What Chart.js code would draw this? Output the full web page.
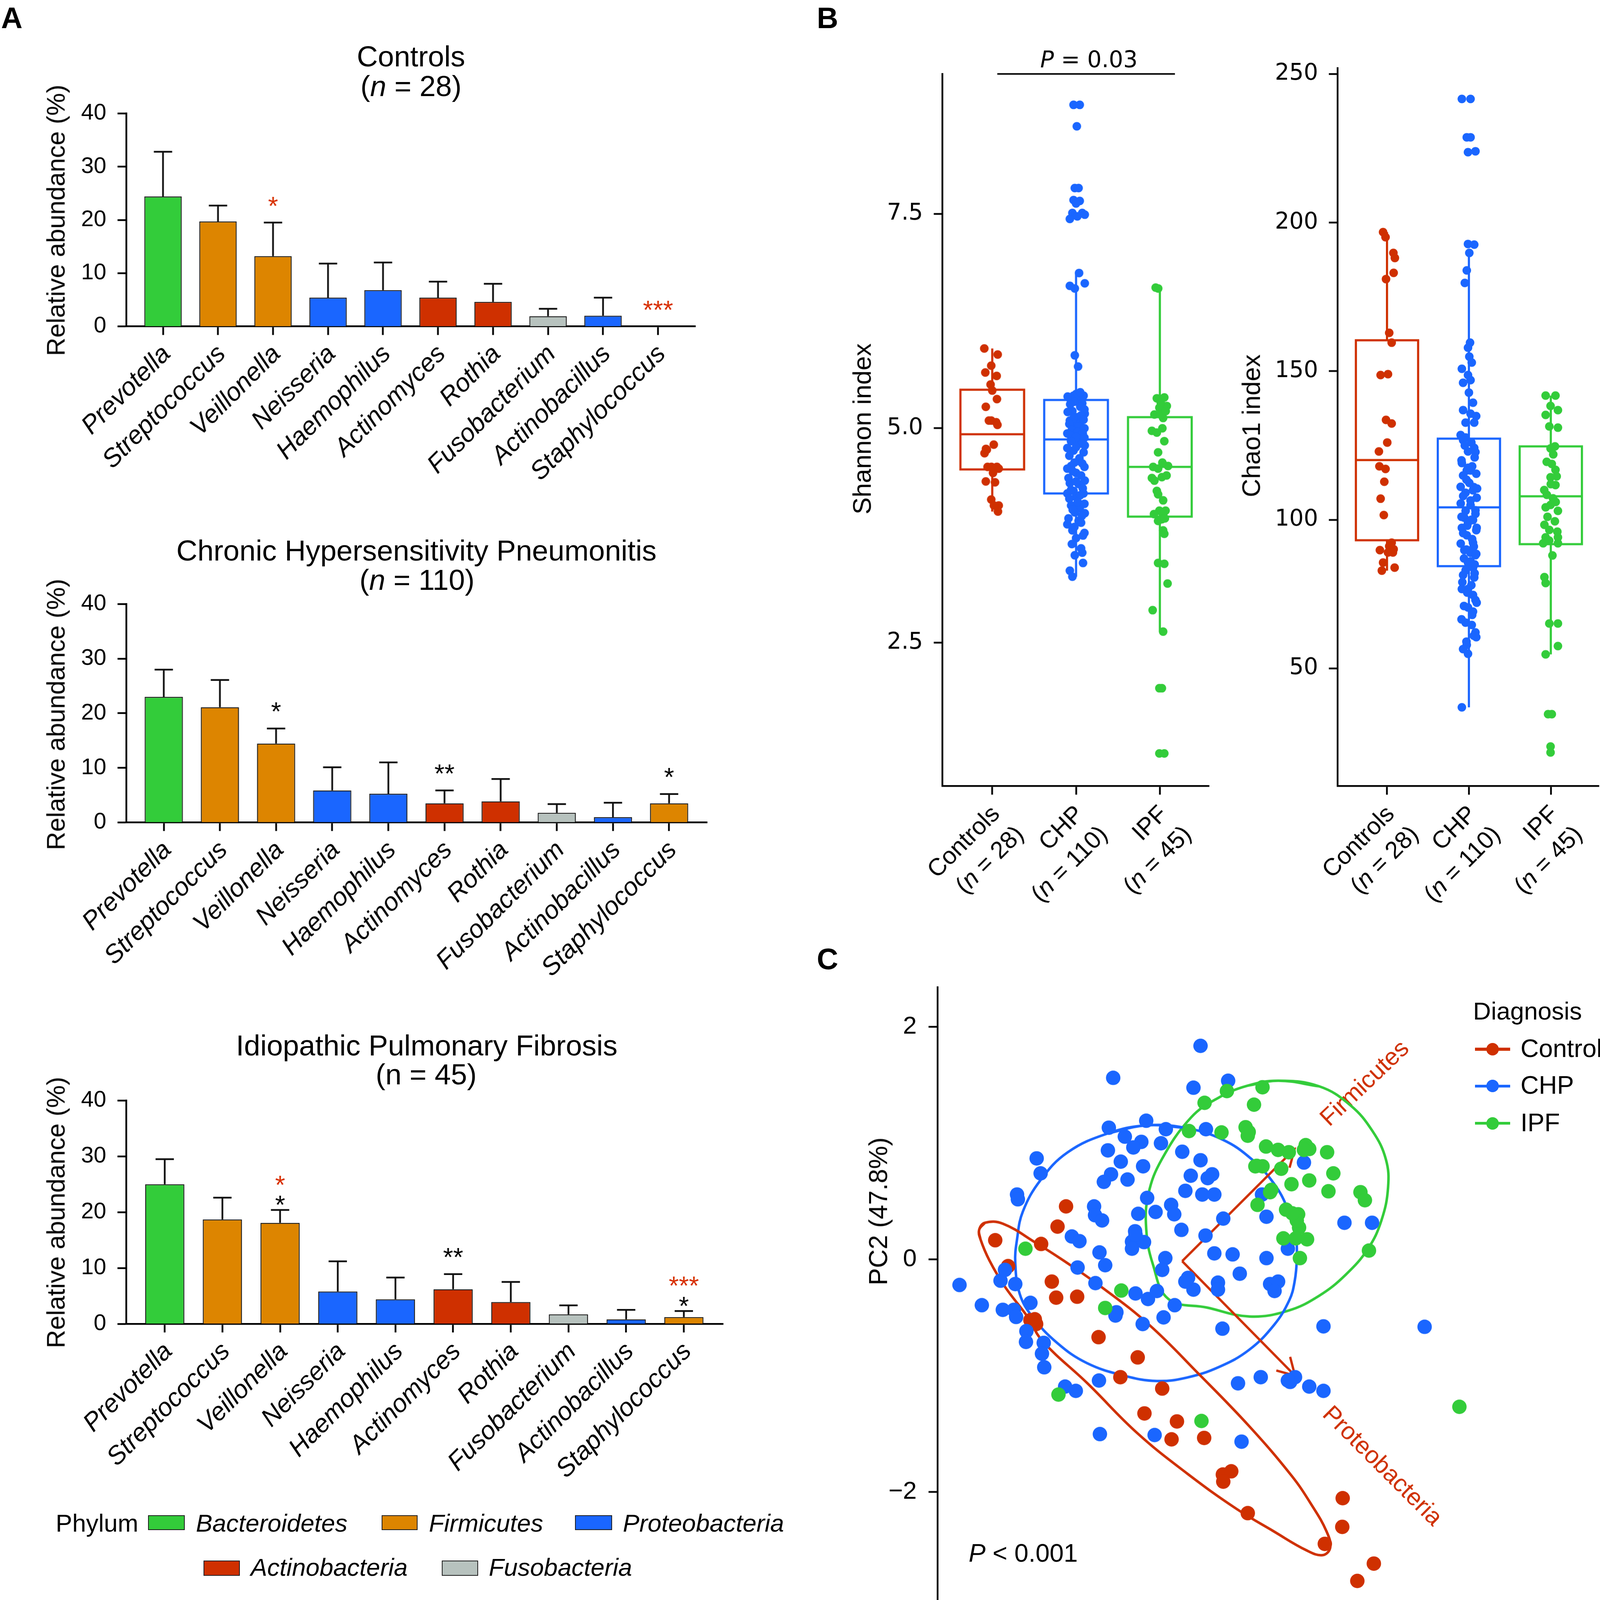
<!DOCTYPE html>
<html>
<head>
<meta charset="utf-8">
<title>Oral microbiota: relative abundance, alpha diversity and PCA</title>
<script src="https://cdn.jsdelivr.net/npm/chart.js@4.4.1/dist/chart.umd.min.js"></script>
<style>
  html, body { margin: 0; padding: 0; background: #fff; }
  #page { position: relative; width: 4138px; height: 4338px; overflow: hidden; background: #fff;
          font-family: "Liberation Sans", Arial, Helvetica, sans-serif; color: #000; }
  .box { position: absolute; }
  .box canvas { display: block; }
  .txt { position: absolute; white-space: nowrap; }
  .sw { position: absolute; box-sizing: border-box; }
</style>
</head>
<body>
<div id="page"></div>
<script>
// ---------------- data: panel A (relative abundance, %) ----------------
const GENERA = ['Prevotella', 'Streptococcus', 'Veillonella', 'Neisseria', 'Haemophilus',
                'Actinomyces', 'Rothia', 'Fusobacterium', 'Actinobacillus', 'Staphylococcus'];
const GENUS_PHYLUM = ['Bacteroidetes', 'Firmicutes', 'Firmicutes', 'Proteobacteria', 'Proteobacteria',
                      'Actinobacteria', 'Actinobacteria', 'Fusobacteria', 'Proteobacteria', 'Firmicutes'];
const PHYLA = ['Bacteroidetes', 'Firmicutes', 'Proteobacteria', 'Actinobacteria', 'Fusobacteria'];
const ABUND_TICKS = [0, 10, 20, 30, 40];

const CTRL_MEAN  = [24.4, 19.7, 13.2, 5.4, 6.8, 5.4, 4.6, 1.9, 2.0, 0];
const CTRL_UPPER = [32.8, 22.7, 19.5, 11.8, 12.0, 8.4, 8.0, 3.3, 5.4, 0];
const CTRL_SIG_BLACK = ['', '', '', '', '', '', '', '', '', ''];
const CTRL_SIG_RED   = ['', '', '*', '', '', '', '', '', '', '***'];

const CHP_MEAN  = [23.0, 21.1, 14.45, 5.85, 5.25, 3.5, 3.85, 1.75, 0.95, 3.5];
const CHP_UPPER = [28.0, 26.1, 17.2, 10.1, 11.0, 5.85, 7.95, 3.35, 3.6, 5.2];
const CHP_SIG_BLACK = ['', '', '*', '', '', '**', '', '', '', '*'];
const CHP_SIG_RED   = ['', '', '', '', '', '', '', '', '', ''];

const IPF_MEAN  = [25.0, 18.7, 18.1, 5.8, 4.4, 6.2, 3.9, 1.7, 0.8, 1.2];
const IPF_UPPER = [29.5, 22.6, 20.4, 11.2, 8.3, 8.9, 7.5, 3.3, 2.5, 2.3];
const IPF_SIG_BLACK = ['', '', '*', '', '', '**', '', '', '', '*'];
const IPF_SIG_RED   = ['', '', '*', '', '', '', '', '', '', '***'];

// ---------------- data: panel B (alpha diversity) ----------------
const GROUPS = ['Controls', 'CHP', 'IPF'];
const GROUP_N = [28, 110, 45];

const SHANNON_TICKS = [2.5, 5.0, 7.5];
const SHANNON_Q1  = [4.52, 4.24, 3.97];
const SHANNON_MED = [4.93, 4.87, 4.55];
const SHANNON_Q3  = [5.45, 5.33, 5.13];
const SHANNON_LO  = [4.03, 3.27, 2.63];
const SHANNON_HI  = [5.93, 6.81, 6.64];
// [value, horizontal jitter in category units]
const SHANNON_CTRL = [[5.93,-0.095],[5.86,0.065],[5.73,-0.012],[5.65,-0.083],[5.61,0.053],[5.51,-0.02],[5.44,0],
  [5.34,0.056],[5.25,-0.077],[5.09,-0.012],[5.07,0.047],[5.04,0.062],[4.81,0.018],[4.75,-0.065],[4.71,-0.092],
  [4.55,-0.056],[4.55,0.056],[4.53,0.077],[4.48,0.009],[4.38,-0.077],[4.37,0.033],[4.17,-0.012],[4.10,0.077],
  [4.03,0.068],[4.76,-0.075],[4.55,-0.01],[5.09,-0.04],[4.10,0.02]];
const SHANNON_CHP = [[8.77,-0.03],[8.77,0.044],[8.52,0.009],[7.80,-0.015],[7.80,0.03],[7.66,-0.03],[7.65,0.044],
  [7.62,0],[7.51,-0.044],[7.51,0.074],[7.47,0.015],[7.44,-0.074],[7.49,0.104],[6.81,0.036],[6.66,-0.074],
  [6.69,0.104],[6.63,-0.015],[5.85,-0.015],[5.72,0.024],
  [5.36,-0.089],[5.38,-0.03],[5.36,0.03],[5.29,0.074],[5.20,-0.044],[5.17,0.104],[5.13,0.015],[5.09,-0.074],
  [5.06,0.044],[5.03,-0.015],[4.94,-0.104],[4.88,-0.044],[4.91,0.059],[4.83,0.015],[4.80,0.104],[4.77,-0.104],
  [4.74,-0.03],[4.62,0.03],[4.56,-0.059],[4.59,0.074],[4.53,-0.104],[4.48,0],[4.39,0.104],[4.36,-0.074],
  [4.35,0.03],[4.27,-0.03],[4.24,-0.104],[4.24,0.089],[4.20,0],[4.10,-0.059],[4.07,0.044],[4.02,-0.015],
  [4.01,0.104],[3.88,-0.104],[3.81,-0.044],[3.92,0.03],[3.75,0.083],[3.72,0],[3.55,0.074],[3.52,-0.015],
  [3.43,0.083],[3.34,-0.074],[3.27,-0.044],
  [5.40,0],[5.38,0.09],[5.35,-0.06],[5.42,0.05],[5.37,-0.1],
  [5.31,-0.02],[5.28,-0.07],[5.25,0.05],[5.22,0.1],[5.19,-0.1],[5.15,0.06],[5.12,-0.03],[5.10,0.09],[5.05,-0.08],
  [5.02,0.03],[5.00,0.1],[4.98,-0.05],[4.96,0.02],[4.94,0.08],[4.92,-0.07],[4.90,0],[4.89,0.1],
  [4.85,-0.06],[4.82,0.07],[4.78,0],[4.72,0.09],[4.68,-0.08],[4.65,0.04],[4.60,-0.02],[4.55,0.1],[4.50,-0.04],
  [4.45,0.06],[4.42,-0.09],[4.38,0],[4.30,0.08],[4.28,-0.06],
  [4.22,0.05],[4.18,-0.08],[4.14,0.02],[4.12,0.1],[4.05,-0.04],[3.98,0.07],[3.95,-0.09],[3.90,0.06],[3.85,-0.02],
  [3.78,0.1],[3.65,-0.05],[3.60,0.06]];
const SHANNON_IPF = [[6.64,-0.05],[6.63,-0.02],[5.35,-0.036],[5.36,0.053],[5.26,0.083],[5.24,-0.006],[5.16,-0.065],
  [5.12,0.039],[5.16,0.009],[4.97,-0.095],[4.95,-0.036],[4.85,0.053],[4.72,-0.021],[4.55,-0.08],[4.56,0.098],
  [4.53,-0.021],[4.42,-0.095],[4.43,0.024],[4.39,-0.065],[4.27,-0.036],[4.23,-0.021],[4.16,0.039],[4.04,-0.006],
  [4.04,0.068],[4.02,0.024],[3.92,-0.021],[3.94,0.024],[3.81,0.039],[3.77,0.053],[3.43,-0.021],[3.42,0.053],
  [3.19,0.092],[2.88,-0.086],[2.63,0.039],[1.97,-0.006],[1.97,0.024],[1.21,-0.006],[1.21,0.053],[5.30,0.01],
  [5.20,0.07],[4.60,0.03],[4.45,0.08],[4.00,-0.07],[3.95,0.06],[5.00,0.03]];
const P_BRACKET = [1.06, 3.18, 9.13];   // x from, x to, y level (Shannon units)

const CHAO_TICKS = [50, 100, 150, 200, 250];
const CHAO_Q1  = [93.1, 84.4, 91.8];
const CHAO_MED = [120.1, 104.2, 107.9];
const CHAO_Q3  = [160.4, 127.3, 124.7];
const CHAO_LO  = [82.9, 36.9, 54.7];
const CHAO_HI  = [196.8, 189.8, 141.8];
const CHAO_CTRL = [[196.8,-0.048],[195.1,-0.018],[189.8,0.078],[188.1,0.096],[183.1,0.081],[181.0,-0.012],
  [162.9,0.027],[159.6,0.057],[148.7,-0.078],[149.0,0.012],[133.6,-0.012],[132.4,0.057],[126.0,0.003],
  [123.0,-0.099],[118.0,-0.093],[117.1,-0.018],[112.8,-0.033],[107.1,-0.078],[101.6,-0.039],[92.3,0.057],
  [91.1,0.027],[90.1,0.081],[89.8,-0.087],[89.0,0.012],[89.0,0.072],[85.6,-0.048],[83.9,0.093],[82.9,-0.063]];
const CHAO_CHP = [[241.6,-0.086],[241.6,0.02],[228.7,-0.026],[228.7,0.02],[223.7,-0.011],[224.0,0.08],
  [192.8,-0.011],[192.6,0.065],[189.8,0.005],[183.9,-0.026],[179.7,-0.05],[159.6,0.014],[157.9,-0.011],
  [154.9,0.005],[152.9,0.035],[150.8,-0.086],[148.7,-0.011],[147.0,0.02],[146.1,-0.071],[142.8,0],
  [139.4,0.05],[136.9,-0.071],[135.7,0.02],[134.9,0.089],[132.7,-0.041],[132.7,0.065],[128.5,-0.101],
  [127.7,-0.041],[126.8,-0.071],[124.2,0.065],[123.0,-0.011],[122.8,0.08],[119.1,-0.086],[116.6,-0.026],
  [116.6,0.02],[114.9,-0.071],[112.4,0.005],[111.1,-0.101],[109.1,-0.041],[109.9,0.05],[107.4,0.095],
  [104.9,0.02],[103.2,0.08],[100.7,-0.056],[99.9,0.05],[99.0,-0.011],[97.3,-0.086],[97.3,0.095],[94.8,-0.026],
  [92.3,0.05],[89.8,-0.056],[88.9,0.02],[88.1,0.08],[85.6,-0.011],[83.9,0.05],[81.4,-0.071],[80.6,0.065],
  [76.7,-0.011],[76.7,-0.086],[74.7,0.05],[72.1,0.095],[70.5,-0.011],[69.1,0.05],[65.4,-0.041],[64.6,0.035],
  [62.1,0.08],[57.9,-0.026],[56.5,-0.071],[54.9,-0.011],[36.9,-0.086],
  [126,0.03],[125,-0.05],[121,0.07],[120,-0.09],[118,0.04],[115.5,0.09],[113.5,-0.03],[111,0.06],[108,-0.07],
  [106.5,0.02],[105.5,-0.1],[110.5,0.1],[117.5,-0.01],
  [103,-0.04],[102,0.08],[101,-0.09],[100,0.03],[98,-0.02],[96.5,0.09],[95.5,-0.07],[93.5,0.04],[92,-0.1],
  [91,0.06],[90,-0.03],[88.5,0.09],[87,-0.06],[86,0.02],[85,0.07],
  [83,-0.04],[82,0.07],[79,-0.08],[78,0.03],[75.5,-0.02],[73,0.08],[71,-0.06],[68,0.04],[66.5,-0.09],
  [61,0.06],[59,-0.03],[60.5,0.09]];
const CHAO_IPF = [[141.8,-0.063],[141.8,0.057],[138.3,-0.003],[135.3,-0.063],[136.9,0.087],[131.4,-0.018],
  [131.0,0.087],[124.0,-0.003],[124.7,0.051],[118.8,0.012],[116.8,0.057],[114.3,-0.003],[114.6,0.072],
  [111.7,0.057],[108.4,-0.048],[107.2,0.027],[104.2,-0.063],[105.0,-0.003],[103.0,0.087],[98.3,-0.078],
  [96.6,-0.018],[94.1,-0.063],[92.1,-0.093],[94.1,0.087],[92.1,0.087],[80.7,-0.078],[78.7,-0.063],
  [65.1,-0.018],[65.1,0.087],[54.7,-0.063],[57.5,0.087],[34.6,-0.033],[34.6,0.012],[23.7,-0.003],
  [21.7,-0.003],[122.0,0.03],[119.5,-0.05],[112.0,0],[110.0,-0.08],[106.0,0.06],[101.0,-0.04],[99.5,0.05],
  [96.0,0.08],[93.0,-0.02],[88.0,0.02]];

// ---------------- data: panel C (PCA scores, [PC x, PC y]) ----------------
const PCA_TICKS = [-2, 0, 2];
const PCA_CTRL = [[-1.533,0.456],[-1.615,0.282],[-2.215,0.165],[-1.773,0.133],[-2.091,-0.058],[-1.670,-0.191],
  [-1.628,-0.329],[-1.426,-0.321],[-1.876,-0.523],[-1.821,-0.556],[-1.220,-0.669],[-0.843,-0.843],[-1.010,-1.013],
  [-0.607,-1.111],[-0.778,-1.325],[-0.465,-1.394],[-0.517,-1.548],[-0.203,-1.536],[-0.023,-1.851],[0.058,-1.823],
  [-0.019,-1.912],[0.217,-2.183],[1.131,-2.054],[1.127,-2.301],[0.959,-2.447],[1.431,-2.617],[1.272,-2.766],
  [-1.834,-0.515]];
const PCA_CHP = [[-0.238,1.837],[-1.079,1.562],[-0.306,1.477],[0.028,1.537],[-0.761,1.193],[-1.121,1.133],
  [-0.572,1.120],[-0.186,1.120],[-0.967,1.056],[-0.808,1.011],[-0.885,0.963],[-0.619,0.999],[-1.130,0.938],
  [-0.414,0.926],[-1.006,0.841],[-0.791,0.801],[-0.238,0.853],[-1.816,0.869],[-1.778,0.740],[-1.100,0.732],
  [-1.169,0.667],[-0.941,0.687],[-0.332,0.720],[-0.169,0.699],[-0.126,0.732],[-0.384,0.590],[-0.221,0.558],
  [-0.105,0.558],[-2.005,0.558],[-1.997,0.517],[-0.752,0.529],[-0.521,0.469],[-1.263,0.456],[-1.254,0.380],
  [-1.186,0.335],[-0.838,0.392],[-0.671,0.408],[-0.491,0.388],[-0.422,0.254],[-0.868,0.242],[-0.898,0.153],
  [-0.782,0.149],[-0.898,0.092],[-1.477,0.197],[-1.404,0.157],[-0.190,0.205],[-0.019,0.351],[0.354,0.558],
  [0.397,0.367],[0.758,0.833],[1.148,0.315],[1.414,0.315],[0.603,0.092],[-1.211,0.060],[-1.156,-0.050],
  [-1.422,-0.070],[-0.577,0.011],[-0.607,-0.090],[-0.105,0.052],[0.071,0.043],[0.397,0.011],[0.140,-0.123],
  [-0.358,-0.159],[-0.306,-0.260],[-0.070,-0.200],[-0.070,-0.260],[0.432,-0.212],[0.509,-0.191],[0.475,-0.272],
  [-1.250,-0.204],[-0.864,-0.293],[-0.744,-0.341],[-0.658,-0.272],[-0.487,-0.394],[-1.057,-0.483],[-0.795,-0.556],
  [-0.594,-0.499],[-0.027,-0.596],[0.946,-0.576],[1.920,-0.580],[-2.559,-0.220],[-2.344,-0.394],[-2.164,-0.183],
  [-2.022,-0.212],[-2.142,-0.434],[-2.035,-0.434],[-2.014,-0.495],[-1.876,-0.374],[-1.915,-0.617],[-1.919,-0.710],
  [-1.748,-0.718],[-1.765,-0.811],[-1.743,-0.928],[-1.216,-1.042],[-1.542,-1.094],[-1.439,-1.131],[0.123,-1.066],
  [0.342,-1.013],[0.672,-1.013],[0.625,-1.054],[0.809,-1.094],[0.946,-1.131],[-1.207,-1.503],[-0.680,-1.511],
  [0.157,-1.568],[-2.121,-0.090],[-1.048,-0.455],[-0.384,-0.191],[0.603,-1.042],[-0.864,0.213]];
const PCA_IPF = [[0.359,1.481],[0.016,1.448],[-0.199,1.347],[0.277,1.331],[-0.349,1.104],[-0.036,1.092],
  [0.196,1.137],[0.217,1.064],[0.393,0.971],[0.509,0.942],[0.612,0.922],[0.775,0.983],[0.809,0.950],[0.981,0.922],
  [0.290,0.801],[0.359,0.801],[0.539,0.780],[1.041,0.740],[0.638,0.647],[0.809,0.679],[0.444,0.598],[0.994,0.586],
  [1.302,0.578],[1.345,0.509],[0.311,0.469],[0.586,0.428],[0.702,0.388],[0.711,0.274],[0.560,0.181],[0.680,0.181],
  [0.788,0.173],[0.719,0.011],[1.384,0.076],[-1.924,0.092],[-1.001,-0.268],[-1.156,-0.418],[-1.606,-1.163],
  [-0.229,-1.390],[2.255,-1.268],[0.758,0.942],[0.303,0.805],[0.689,0.335],[0.646,0.396],[0.432,0.578],[0.226,1.096]];
// group ellipse outlines
const ELLIPSE_CTRL = [[-2.370,0.254],[-2.314,0.315],[-2.142,0.307],[-1.821,0.141],[-1.559,-0.009],[-1.194,-0.236],
  [-0.731,-0.564],[-0.251,-0.989],[0.230,-1.434],[0.638,-1.860],[0.831,-2.111],[0.976,-2.341],[1.011,-2.479],
  [0.938,-2.544],[0.783,-2.503],[0.470,-2.341],[0.110,-2.147],[-0.371,-1.839],[-0.851,-1.491],[-1.327,-1.066],
  [-1.761,-0.701],[-1.906,-0.491],[-2.121,-0.236],[-2.271,-0.009],[-2.357,0.173]];
const ELLIPSE_CHP = [[-0.761,1.153],[-0.392,1.133],[-0.027,1.031],[0.256,0.861],[0.470,0.651],[0.599,0.440],
  [0.676,0.214],[0.689,0.011],[0.668,-0.191],[0.616,-0.353],[0.470,-0.564],[0.230,-0.778],[-0.057,-0.924],
  [-0.371,-1.017],[-0.658,-1.046],[-0.971,-1.001],[-1.332,-0.892],[-1.619,-0.718],[-1.859,-0.491],[-1.979,-0.297],
  [-2.022,-0.030],[-2.005,0.173],[-1.949,0.412],[-1.778,0.683],[-1.516,0.922],[-1.130,1.084]];
const ELLIPSE_IPF = [[0.513,1.537],[0.904,1.489],[1.204,1.327],[1.418,1.104],[1.547,0.861],[1.568,0.618],
  [1.504,0.335],[1.375,0.092],[1.161,-0.131],[0.904,-0.313],[0.603,-0.442],[0.234,-0.491],[-0.178,-0.414],
  [-0.547,-0.341],[-0.697,-0.042],[-0.761,0.262],[-0.740,0.562],[-0.611,0.861],[-0.328,1.222],[-0.070,1.388],
  [0.209,1.493]];
const ARROW_ORIGIN = [-0.415, -0.015];
const ARROW_NAMES = ['Firmicutes', 'Proteobacteria'];
const ARROW_TIPS = [[0.668, 0.950], [0.672, -1.000]];

// ---------------- styles ----------------
const FONT = '"Liberation Sans", Arial, Helvetica, sans-serif';
const WIDE = '"DejaVu Sans", Verdana, sans-serif';
const RED = '#cf3000', BLUE = '#1a66ff', GREEN = '#33cc3a';
const GROUP_COLOR = [RED, BLUE, GREEN];
const PHYLUM_COLOR = {Bacteroidetes: GREEN, Firmicutes: '#dd8500', Proteobacteria: BLUE,
                      Actinobacteria: RED, Fusobacteria: '#b7c2be'};
const BOX_HALF = 0.38;

const KX = 4138 / 1500, KY = 4338 / 1568;   // layout written in reference pixels
const page = document.getElementById('page');

Chart.defaults.font.family = FONT;
Chart.defaults.color = '#000';

function place(area, pad) {
  const left = (area.l - pad.l) * KX, top = (area.t - pad.t) * KY;
  const div = document.createElement('div');
  div.className = 'box';
  div.style.left = left + 'px';
  div.style.top = top + 'px';
  div.style.width = ((area.r + pad.r) * KX - left) + 'px';
  div.style.height = ((area.b + pad.b) * KY - top) + 'px';
  const cv = document.createElement('canvas');
  div.appendChild(cv);
  page.appendChild(div);
  return cv;
}

function baseOptions(pad, scales) {
  return {
    responsive: true, maintainAspectRatio: false, devicePixelRatio: 1,
    animation: false, events: [],
    layout: {padding: {left: 0, top: pad.t * KY, right: pad.r * KX, bottom: 0}},
    plugins: {legend: {display: false}, tooltip: {enabled: false}},
    scales
  };
}

function axisLines(tick) {
  return {
    grid: {display: true, drawOnChartArea: false, drawTicks: true, tickLength: tick * KX,
           tickWidth: 4.5, tickColor: '#000', offset: false},
    border: {display: true, color: '#000', width: 4.5}
  };
}
const fixedTicks = values => s => { s.ticks = values.map(v => ({value: v})); };
// fix the axis box so the plot area lands exactly where the figure has it
function fixSize(prop, size) {
  return s => {
    s[prop] = size;
    s.paddingTop = s.paddingBottom = s.paddingLeft = s.paddingRight = 0;
  };
}

// HTML text, positioned by baseline in reference pixels
function text(html, x, yBase, size, opt = {}) {
  const el = document.createElement('div');
  el.className = 'txt';
  el.innerHTML = html;
  const fs = size * KX;
  el.style.fontSize = fs + 'px';
  el.style.lineHeight = fs + 'px';
  if (opt.family) el.style.fontFamily = opt.family;
  if (opt.bold) el.style.fontWeight = 'bold';
  if (opt.italic) el.style.fontStyle = 'italic';
  el.style.left = (x * KX) + 'px';
  el.style.top = (yBase * KY - 0.8465 * fs) + 'px';
  const shift = {left: '0', center: '-50%', right: '-100%'}[opt.align || 'left'];
  el.style.transform = 'translateX(' + shift + ')';
  page.appendChild(el);
}
function vtext(html, cx, cy, size) {
  const el = document.createElement('div');
  el.className = 'txt';
  el.innerHTML = html;
  const fs = size * KX;
  el.style.fontSize = fs + 'px';
  el.style.lineHeight = fs + 'px';
  el.style.left = (cx * KX) + 'px';
  el.style.top = (cy * KY) + 'px';
  el.style.transform = 'translate(-50%, -50%) rotate(-90deg)';
  page.appendChild(el);
}
function swatch(x0, x1, y0, y1, color, round) {
  const el = document.createElement('div');
  el.className = 'sw';
  el.style.left = (x0 * KX) + 'px';
  el.style.top = (y0 * KY) + 'px';
  el.style.width = ((x1 - x0) * KX) + 'px';
  el.style.height = ((y1 - y0) * KY) + 'px';
  el.style.background = color;
  if (round) el.style.borderRadius = '50%';
  else if (round === false) el.style.border = '2.5px solid #1c1c1c';
  page.appendChild(el);
}

// ---------------- panel A ----------------
function errorBars(upper, sigBlack, sigRed) {
  return {
    id: 'errorBars',
    afterDatasetsDraw(chart) {
      const {ctx} = chart, xs = chart.scales.x, ys = chart.scales.y;
      const data = chart.data.datasets[0].data;
      const cap = 8.5 * KX, fs = 24 * KX;
      ctx.save();
      ctx.strokeStyle = '#111';
      ctx.lineWidth = 4.5;
      ctx.font = fs + 'px ' + FONT;
      ctx.textAlign = 'center';
      ctx.textBaseline = 'middle';
      upper.forEach((u, i) => {
        const x = xs.getPixelForValue(data[i].x);
        const yBar = ys.getPixelForValue(data[i].y), yTop = ys.getPixelForValue(u);
        if (u > data[i].y) {
          ctx.beginPath();
          ctx.moveTo(x, yBar); ctx.lineTo(x, yTop);
          ctx.moveTo(x - cap, yTop); ctx.lineTo(x + cap, yTop);
          ctx.stroke();
        }
        const both = sigBlack[i] && sigRed[i];
        const star = (s, off, col) => {
          ctx.fillStyle = col;
          ctx.fillText(s, x, yTop - off * KY + 0.265 * fs);
        };
        if (sigBlack[i]) star(sigBlack[i], both ? 9.5 : 20.5, '#000');
        if (sigRed[i]) star(sigRed[i], both ? 28 : 20, '#d83000');
      });
      ctx.restore();
    }
  };
}

function abundanceChart(area, mean, upper, sigBlack, sigRed) {
  const pad = {l: 117, r: 20, t: 15, b: 150};
  const cv = place(area, pad);
  new Chart(cv, {
    type: 'bar',
    data: {datasets: [{
      data: mean.map((v, i) => ({x: i + 1, y: v})),
      backgroundColor: GENUS_PHYLUM.map(p => PHYLUM_COLOR[p]),
      borderColor: '#1c1c1c', borderWidth: 2.5, borderSkipped: 'bottom',
      barPercentage: 0.68, categoryPercentage: 1
    }]},
    options: baseOptions(pad, {
      x: {type: 'linear', min: 0.33, max: 10.68, offset: false, ...axisLines(8),
          afterBuildTicks: fixedTicks(GENERA.map((g, i) => i + 1)),
          afterFit: fixSize('height', pad.b * KY),
          ticks: {autoSkip: false, minRotation: 45, maxRotation: 45, padding: 4 * KY, labelOffset: 3.5 * KX,
                  color: '#000', font: {family: FONT, size: 23.7 * KX, style: 'italic'},
                  callback: v => GENERA[v - 1] || ''}},
      y: {min: 0, max: 40, ...axisLines(8),
          afterBuildTicks: fixedTicks(ABUND_TICKS),
          afterFit: fixSize('width', pad.l * KX),
          ticks: {padding: 10.4 * KX, color: '#000', font: {family: FONT, size: 21 * KX},
                  callback: v => String(v)}}
    }),
    plugins: [errorBars(upper, sigBlack, sigRed)]
  });
}

abundanceChart({l: 117, t: 105, r: 645, b: 302}, CTRL_MEAN, CTRL_UPPER, CTRL_SIG_BLACK, CTRL_SIG_RED);
abundanceChart({l: 117, t: 559, r: 656, b: 761}, CHP_MEAN, CHP_UPPER, CHP_SIG_BLACK, CHP_SIG_RED);
abundanceChart({l: 117, t: 1018.4, r: 671, b: 1225}, IPF_MEAN, IPF_UPPER, IPF_SIG_BLACK, IPF_SIG_RED);

// ---------------- panel B ----------------
const groupTickLabels = {
  id: 'groupTickLabels',
  afterDraw(chart) {
    const {ctx, chartArea} = chart;
    const xs = chart.scales.x;
    const fs = 22.5 * KX;
    const regular = fs + 'px ' + FONT, italic = 'italic ' + fs + 'px ' + FONT;
    ctx.save();
    ctx.fillStyle = '#000';
    ctx.textBaseline = 'alphabetic';
    GROUPS.forEach((name, i) => {
      ctx.save();
      ctx.translate(xs.getPixelForValue(i + 1) + 8 * KX, chartArea.bottom + 27 * KY);
      ctx.rotate(-Math.PI / 4);
      ctx.textAlign = 'right';
      ctx.font = regular;
      ctx.fillText(name, 0, 0);
      const parts = [['(', regular], ['n', italic], [' = ' + GROUP_N[i] + ')', regular]];
      ctx.textAlign = 'left';
      let w = 0;
      parts.forEach(([s, f]) => { ctx.font = f; w += ctx.measureText(s).width; });
      let x = 2.5 * KX - w;
      parts.forEach(([s, f]) => { ctx.font = f; ctx.fillText(s, x, 29 * KX); x += ctx.measureText(s).width; });
      ctx.restore();
    });
    ctx.restore();
  }
};

function boxChart(area, pad, cfg) {
  const cv = place(area, pad);
  const datasets = [];
  GROUPS.forEach((g, i) => {
    const c = i + 1, col = GROUP_COLOR[i];
    const seg = (pts, cap) => ({data: pts.map(([x, y]) => ({x, y})), showLine: true, pointRadius: 0,
      borderColor: col, borderWidth: 5.5, borderJoinStyle: 'miter', borderCapStyle: cap || 'butt', order: 2});
    const L = c - BOX_HALF, R = c + BOX_HALF;
    datasets.push(seg([[L, cfg.q1[i]], [R, cfg.q1[i]], [R, cfg.q3[i]], [L, cfg.q3[i]], [L, cfg.q1[i]]], 'square'));
    datasets.push(seg([[L, cfg.med[i]], [R, cfg.med[i]]]));
    datasets.push(seg([[c, cfg.q3[i]], [c, cfg.hi[i]]]));
    datasets.push(seg([[c, cfg.q1[i]], [c, cfg.lo[i]]]));
    datasets.push({data: cfg.points[i].map(([v, j]) => ({x: c + j, y: v})), showLine: false,
      pointRadius: 11, pointBackgroundColor: col, pointBorderWidth: 0, order: 1});
  });
  (cfg.extra || []).forEach(d => datasets.push(d));
  new Chart(cv, {
    type: 'scatter',
    data: {datasets},
    options: baseOptions(pad, {
      x: {type: 'linear', min: cfg.xMin, max: cfg.xMax, ...axisLines(8),
          afterBuildTicks: fixedTicks([1, 2, 3]),
          afterFit: fixSize('height', pad.b * KY),
          ticks: {display: false}},
      y: {type: 'linear', min: cfg.yMin, max: cfg.yMax, ...axisLines(8),
          afterBuildTicks: fixedTicks(cfg.ticks),
          afterFit: fixSize('width', pad.l * KX),
          ticks: {padding: 10 * KX, color: '#000', font: {family: WIDE, size: 21 * KX}, callback: cfg.fmt}}
    }),
    plugins: [groupTickLabels]
  });
}

boxChart({l: 874.6, t: 68.4, r: 1122, b: 727}, {l: 65, r: 10, t: 20, b: 140}, {
  q1: SHANNON_Q1, med: SHANNON_MED, q3: SHANNON_Q3, lo: SHANNON_LO, hi: SHANNON_HI,
  points: [SHANNON_CTRL, SHANNON_CHP, SHANNON_IPF],
  xMin: 0.405, xMax: 3.59, yMin: 0.83, yMax: 9.13, ticks: SHANNON_TICKS, fmt: v => v.toFixed(1),
  extra: [{data: [{x: P_BRACKET[0], y: P_BRACKET[2]}, {x: P_BRACKET[1], y: P_BRACKET[2]}], showLine: true,
           pointRadius: 0, borderColor: '#000', borderWidth: 4, clip: false, order: 0}]
});
boxChart({l: 1241, t: 62.9, r: 1483.6, b: 727}, {l: 75, r: 10, t: 12, b: 140}, {
  q1: CHAO_Q1, med: CHAO_MED, q3: CHAO_Q3, lo: CHAO_LO, hi: CHAO_HI,
  points: [CHAO_CTRL, CHAO_CHP, CHAO_IPF],
  xMin: 0.395, xMax: 3.587, yMin: 10.4, yMax: 252, ticks: CHAO_TICKS, fmt: v => String(v)
});

// ---------------- panel C ----------------
const loadingArrows = {
  id: 'loadingArrows',
  beforeDatasetsDraw(chart) {
    const {ctx} = chart, xs = chart.scales.x, ys = chart.scales.y;
    const x0 = xs.getPixelForValue(ARROW_ORIGIN[0]), y0 = ys.getPixelForValue(ARROW_ORIGIN[1]);
    const labelAt = [[1.002, 1.137, -43.6], [0.926, -1.342, 45]];
    const head = 18 * KX, spread = Math.PI / 6;
    ctx.save();
    ctx.strokeStyle = RED;
    ctx.fillStyle = RED;
    ctx.lineWidth = 6;
    ARROW_TIPS.forEach(([tx, ty], i) => {
      const x1 = xs.getPixelForValue(tx), y1 = ys.getPixelForValue(ty);
      const ang = Math.atan2(y1 - y0, x1 - x0);
      ctx.beginPath();
      ctx.moveTo(x1 - head * Math.cos(ang - spread), y1 - head * Math.sin(ang - spread));
      ctx.lineTo(x1, y1);
      ctx.lineTo(x1 - head * Math.cos(ang + spread), y1 - head * Math.sin(ang + spread));
      ctx.stroke();
      const [lx, ly, rot] = labelAt[i];
      ctx.save();
      ctx.translate(xs.getPixelForValue(lx), ys.getPixelForValue(ly));
      ctx.rotate(rot * Math.PI / 180);
      ctx.font = (22.5 * KX) + 'px ' + FONT;
      ctx.textAlign = 'left';
      ctx.textBaseline = 'alphabetic';
      ctx.fillText(ARROW_NAMES[i], 0, 0);
      ctx.restore();
    });
    ctx.restore();
  }
};

(function pcaChart() {
  const area = {l: 870, t: 913.7, r: 1391.5, b: 1489.6};
  const pad = {l: 60, r: 10, t: 10, b: 45};
  const cv = place(area, pad);
  const ring = (pts, col) => {
    const seq = [pts[pts.length - 1], ...pts, pts[0], pts[1]];
    return {data: seq.map(([x, y]) => ({x, y})), showLine: true, tension: 0.4, pointRadius: 0,
            borderColor: col, borderWidth: 6.5, order: 3};
  };
  const shaft = tip => ({data: [{x: ARROW_ORIGIN[0], y: ARROW_ORIGIN[1]}, {x: tip[0], y: tip[1]}],
                         showLine: true, pointRadius: 0, borderColor: RED, borderWidth: 6, order: 2});
  const dots = (pts, col, order) => ({data: pts.map(([x, y]) => ({x, y})), showLine: false,
                                      pointRadius: 18.5, pointBackgroundColor: col, pointBorderWidth: 0, order});
  const minus = v => (v < 0 ? '\u2212' + Math.abs(v) : String(v));
  new Chart(cv, {
    type: 'scatter',
    data: {datasets: [
      ring(ELLIPSE_CTRL, RED), ring(ELLIPSE_CHP, BLUE), ring(ELLIPSE_IPF, GREEN),
      shaft(ARROW_TIPS[0]), shaft(ARROW_TIPS[1]),
      dots(PCA_CTRL, RED, 1.2), dots(PCA_CHP, BLUE, 1.1), dots(PCA_IPF, GREEN, 1.0)
    ]},
    options: baseOptions(pad, {
      x: {type: 'linear', min: -2.769, max: 2.643, ...axisLines(8.5),
          afterBuildTicks: fixedTicks(PCA_TICKS),
          afterFit: fixSize('height', pad.b * KY),
          ticks: {padding: 9.4 * KY, color: '#000', font: {family: FONT, size: 23 * KX}, callback: minus}},
      y: {type: 'linear', min: -3.017, max: 2.340, ...axisLines(8.5),
          afterBuildTicks: fixedTicks(PCA_TICKS),
          afterFit: fixSize('width', pad.l * KX),
          ticks: {padding: 11 * KX, color: '#000', font: {family: FONT, size: 23 * KX}, callback: minus}}
    }),
    plugins: [loadingArrows]
  });
})();

// ---------------- text, titles and legends ----------------
text('A', 1, 26, 27.5, {bold: true});
text('B', 758, 26, 27.5, {bold: true});
text('C', 758, 897, 27.5, {bold: true});

text('Controls', 381.4, 62, 27, {align: 'center'});
text('(<i>n</i> = 28)', 381.4, 89.4, 27, {align: 'center'});
text('Chronic Hypersensitivity Pneumonitis', 386.5, 519, 27, {align: 'center'});
text('(<i>n</i> = 110)', 387, 546, 27, {align: 'center'});
text('Idiopathic Pulmonary Fibrosis', 396, 977.2, 27, {align: 'center'});
text('(n = 45)', 395.5, 1003.8, 27, {align: 'center'});
[204, 661, 1122].forEach(cy => vtext('Relative abundance (%)', 52, cy, 23.6));

text('Phylum', 51.7, 1417.5, 23);
const legendA = [
  [137.3, 171.3, 1402, 1416, 181.8, 1417.5],
  [354, 387.6, 1402, 1416, 398, 1417.5],
  [533.6, 568, 1402, 1416, 578, 1417.5],
  [189, 222.5, 1444, 1458, 232.6, 1458.5],
  [410, 443.6, 1444, 1458, 453.6, 1458.5]
];
PHYLA.forEach((p, i) => {
  const [x0, x1, y0, y1, tx, ty] = legendA[i];
  swatch(x0, x1, y0, y1, PHYLUM_COLOR[p], false);
  text(p, tx, ty, 23, {italic: true});
});

vtext('Shannon index', 800, 397, 23.8);
vtext('Chao1 index', 1161, 394, 23.6);
text('<i>P</i> = 0.03', 1010.5, 62.4, 21, {align: 'center', family: WIDE});

vtext('PC2 (47.8%)', 815, 1121, 24);
text('PC2 (52.2%)', 1130.9, 1563.3, 24, {align: 'center'});
text('<i>P</i> &lt; 0.001', 898.9, 1445.5, 23.5);

text('Diagnosis', 1367, 943.7, 23);
[[970.9, 978.4], [1005, 1012.5], [1039.4, 1047]].forEach(([ly, ty], i) => {
  swatch(1368.8, 1401.4, ly - 1.3, ly + 1.3, GROUP_COLOR[i]);
  swatch(1385 - 5.8, 1385 + 5.8, ly - 5.8, ly + 5.8, GROUP_COLOR[i], true);
  text(GROUPS[i], 1411, ty, 23.5);
});
</script>
</body>
</html>
